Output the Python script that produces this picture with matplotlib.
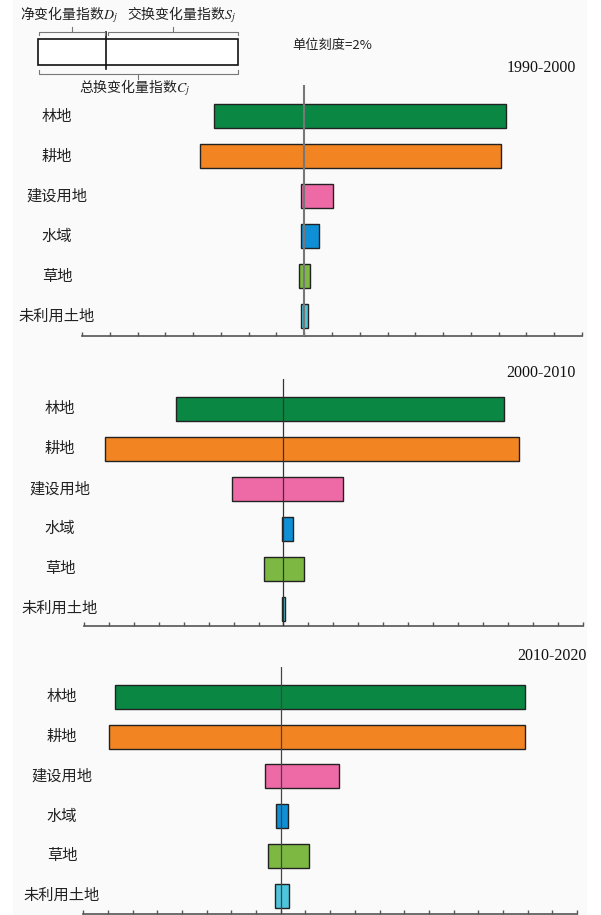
import matplotlib
matplotlib.use('Agg')
import matplotlib.pyplot as plt
from matplotlib.patches import Rectangle
import numpy as np

plt.rcParams['font.family'] = ['Noto Sans CJK SC', 'DejaVu Sans']
plt.rcParams['mathtext.fontset'] = 'stix'

# 数据 (单位: %)
cats = ['林地', '耕地', '建设用地', '水域', '草地', '未利用土地']
colors = ['#0b8744', '#f28522', '#ee6aa7', '#0f8fd6', '#7db843', '#4ec5dc']
periods = ['1990-2000', '2000-2010', '2010-2020']
left_1 = [-6.5, -7.5, -0.2, -0.2, -0.4, -0.2]
right_1 = [14.5, 14.2, 2.1, 1.1, 0.45, 0.25]
left_2 = [-8.6, -14.3, -4.1, -0.08, -1.6, -0.08]
right_2 = [17.7, 18.9, 4.8, 0.8, 1.65, 0.12]
left_3 = [-13.4, -13.9, -1.3, -0.35, -1.0, -0.45]
right_3 = [19.8, 19.8, 4.75, 0.55, 2.25, 0.7]
xlims = [(-16, 20), (-16, 24), (-16, 24)]

W, H = 601, 915
fig = plt.figure(figsize=(W / 100, H / 100), dpi=100)
fig.patch.set_facecolor('white')

# 背景 (像素坐标的覆盖层)
bg = fig.add_axes([0, 0, 1, 1], zorder=-5)
bg.set_xlim(0, W)
bg.set_ylim(H, 0)
bg.axis('off')
bg.add_patch(Rectangle((13, 0), 574, H, facecolor='#fafafa', edgecolor='none'))

# 各面板位置: 左, 右, 上, 下 (像素)
boxes = [(82, 582, 85, 336), (84, 582.7, 379, 626.3), (83.3, 577, 667, 913.5)]
ylims = [(5.49, -0.78), (5.44, -0.75), (5.45, -0.75)]
label_x = [57, 60, 62]
year_pos = [(576, 68), (576, 373), (587, 656)]
zero_style = [dict(color='#777777', lw=1.5), dict(color='#333333', lw=0.9),
              dict(color='#444444', lw=0.9)]
lefts = [left_1, left_2, left_3]
rights = [right_1, right_2, right_3]

for k in range(3):
    x0, x1, yt, yb = boxes[k]
    ax = fig.add_axes([x0 / W, 1 - yb / H, (x1 - x0) / W, (yb - yt) / H])
    ax.patch.set_alpha(0)
    y = np.arange(len(cats))
    l = np.array(lefts[k])
    r = np.array(rights[k])
    ax.barh(y, r - l, left=l, height=0.6, color=colors,
            edgecolor='#222222', linewidth=1.0, zorder=2)
    ax.axvline(0, zorder=3, **zero_style[k])
    ax.set_xlim(*xlims[k])
    ax.set_ylim(*ylims[k])
    ax.set_xticks(np.arange(xlims[k][0], xlims[k][1] + 0.1, 2))
    ax.set_xticklabels([])
    ax.set_yticks([])
    for s in ['top', 'right', 'left']:
        ax.spines[s].set_visible(False)
    ax.spines['bottom'].set_color('#555555')
    ax.spines['bottom'].set_linewidth(1.2)
    ax.tick_params(axis='x', direction='in', length=3, width=1, color='#555555')
    # 类别标签
    for i, c in enumerate(cats):
        ypix = yt + (i - ylims[k][1]) / (ylims[k][0] - ylims[k][1]) * (yb - yt)
        fig.text(label_x[k] / W, 1 - ypix / H, c, ha='center', va='center',
                 fontsize=11, color='#222222')
    fig.text(year_pos[k][0] / W, 1 - year_pos[k][1] / H, periods[k],
             ha='right', va='center', fontsize=11.5, family='Liberation Serif',
             color='#111111')

# 图例示意 (像素坐标)
lg = fig.add_axes([0, 0, 1, 1], zorder=5)
lg.set_xlim(0, W)
lg.set_ylim(H, 0)
lg.axis('off')
lg.add_patch(Rectangle((38.3, 39.3), 200, 25.7, facecolor='white',
                       edgecolor='#111111', lw=1.2))
lg.plot([106.3, 106.3], [31.7, 69.3], color='#111111', lw=1.2)
bk = dict(color='#777777', lw=0.8)
# 上方括号
lg.plot([38.5, 38.5, 105, 105], [35, 31.7, 31.7, 35], **bk)
lg.plot([71.7, 71.7], [31.7, 26.7], **bk)
lg.plot([108, 108, 238, 238], [35, 31.7, 31.7, 35], **bk)
lg.plot([173.3, 173.3], [31.7, 26.7], **bk)
# 下方括号
lg.plot([38.5, 38.5, 238, 238], [70, 73.5, 73.5, 70], **bk)
lg.plot([138.3, 138.3], [73.5, 79], **bk)
lg.text(69, 15, '净变化量指数$D_j$', ha='center', va='center', fontsize=10,
        color='#222222')
lg.text(181, 15, '交换变化量指数$S_j$', ha='center', va='center', fontsize=10,
        color='#222222')
lg.text(135, 88, '总换变化量指数$C_j$', ha='center', va='center', fontsize=10,
        color='#222222')
lg.text(332.5, 45, '单位刻度=2%', ha='center', va='center', fontsize=9.5,
        color='#222222')

fig.savefig('out.png', dpi=100)
